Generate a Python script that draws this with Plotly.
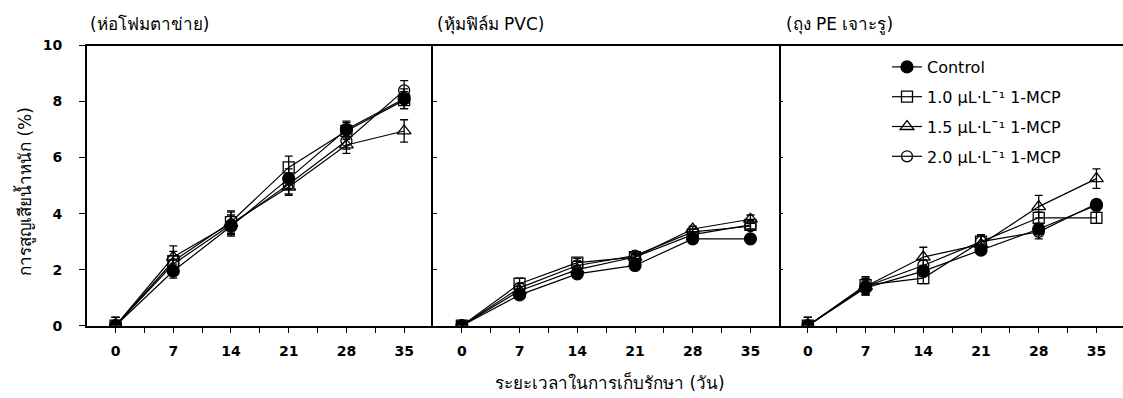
import plotly.graph_objects as go

# Storage time (days) and axis ticks
days = [0, 7, 14, 21, 28, 35]
minor_days = [3.5, 10.5, 17.5, 24.5, 31.5]
y_ticks = [0, 2, 4, 6, 8, 10]

panel_titles = ["(ห่อโฟมตาข่าย)", "(หุ้มฟิล์ม PVC)", "(ถุง PE เจาะรู)"]
series_names = ["Control", "1.0 μL·L¯¹ 1-MCP", "1.5 μL·L¯¹ 1-MCP", "2.0 μL·L¯¹ 1-MCP"]

# Weight loss (%) — foam net wrap
foam_ctrl = [0, 1.95, 3.55, 5.25, 7.0, 8.1]
foam_10 = [0, 2.3, 3.7, 5.65, 6.95, 8.05]
foam_15 = [0, 2.45, 3.65, 4.95, 6.45, 6.95]
foam_20 = [0, 2.2, 3.6, 5.05, 6.6, 8.4]
foam_ctrl_err = [0.3, 0.25, 0.35, 0.35, 0.3, 0.35]
foam_10_err = [0.3, 0.35, 0.4, 0.4, 0.3, 0.3]
foam_15_err = [0.3, 0.4, 0.4, 0.3, 0.3, 0.4]
foam_20_err = [0.3, 0.3, 0.35, 0.35, 0.3, 0.35]

# Weight loss (%) — PVC film wrap
pvc_ctrl = [0, 1.1, 1.85, 2.15, 3.1, 3.1]
pvc_10 = [0, 1.5, 2.25, 2.45, 3.25, 3.6]
pvc_15 = [0, 1.25, 2.0, 2.45, 3.45, 3.8]
pvc_20 = [0, 1.35, 2.15, 2.5, 3.35, 3.55]
pvc_ctrl_err = [0.1, 0.1, 0.15, 0.15, 0.1, 0.15]
pvc_10_err = [0.1, 0.2, 0.15, 0.1, 0.1, 0.15]
pvc_15_err = [0.1, 0.15, 0.15, 0.1, 0.1, 0.15]
pvc_20_err = [0.1, 0.15, 0.15, 0.1, 0.1, 0.1]

# Weight loss (%) — perforated PE bag
pe_ctrl = [0, 1.35, 1.95, 2.7, 3.45, 4.3]
pe_10 = [0, 1.45, 1.7, 3.0, 3.85, 3.85]
pe_15 = [0, 1.4, 2.45, 2.9, 4.25, 5.25]
pe_20 = [0, 1.4, 2.15, 3.0, 3.35, 4.35]
pe_ctrl_err = [0.3, 0.25, 0.2, 0.15, 0.2, 0.15]
pe_10_err = [0.3, 0.3, 0.2, 0.2, 0.2, 0.2]
pe_15_err = [0.3, 0.3, 0.35, 0.3, 0.4, 0.35]
pe_20_err = [0.3, 0.3, 0.2, 0.25, 0.25, 0.15]

panels = [
    ([foam_ctrl, foam_10, foam_15, foam_20], [foam_ctrl_err, foam_10_err, foam_15_err, foam_20_err]),
    ([pvc_ctrl, pvc_10, pvc_15, pvc_20], [pvc_ctrl_err, pvc_10_err, pvc_15_err, pvc_20_err]),
    ([pe_ctrl, pe_10, pe_15, pe_20], [pe_ctrl_err, pe_10_err, pe_15_err, pe_20_err]),
]

W, H = 1123, 398
FONT = "Tahoma, 'DejaVu Sans', 'Noto Sans', sans-serif"

symbols = ["circle", "square-open", "triangle-up-open", "circle-open"]
sizes = [12, 11, 12, 11]

# pixel extents of the three panels
x_px = [(86.7, 433.0), (433.0, 779.0), (779.0, 1123.0)]
px_per_day = (433.0 - 86.7) / 42.0
y_dom = [1 - 325.7 / H, 1 - 45.5 / H]

fig = go.Figure()

for p, (vals, errs) in enumerate(panels):
    xa = "x" if p == 0 else f"x{p + 1}"
    ya = "y" if p == 0 else f"y{p + 1}"
    for s in range(4):
        fig.add_trace(go.Scatter(
            x=days, y=vals[s], xaxis=xa, yaxis=ya,
            mode="lines+markers", name=series_names[s],
            showlegend=(p == 2), legendgroup=f"g{s}",
            line=dict(color="black", width=1.2),
            marker=dict(symbol=symbols[s], size=sizes[s], color="black",
                        line=dict(color="black", width=1.3)),
            error_y=dict(type="data", array=errs[s], color="black",
                         thickness=1.3, width=4),
        ))

tick_font = dict(family=FONT, size=14, color="black", weight="bold")

for p in range(3):
    x0, x1 = x_px[p]
    lo = -3.5
    hi = lo + (x1 - x0) / px_per_day
    key = "" if p == 0 else str(p + 1)
    ov = str(p + 4)
    fig.layout[f"xaxis{key}"] = dict(
        domain=[x0 / W, x1 / W], range=[lo, hi], anchor=f"y{key}",
        showline=True, linecolor="black", linewidth=1.5, mirror=True,
        showgrid=False, zeroline=False,
        tickvals=days, ticktext=[str(d) for d in days],
        ticks="outside", ticklen=6, tickwidth=1.3, tickcolor="black",
        minor=dict(tickvals=minor_days, ticks="outside", ticklen=6,
                   tickwidth=1.3, tickcolor="black"),
        tickfont=tick_font, ticklabelstandoff=6,
    )
    # inner half of the day ticks (they straddle the axis line)
    fig.layout[f"xaxis{ov}"] = dict(
        overlaying=f"x{key}", range=[lo, hi], anchor=f"y{key}",
        showline=False, showgrid=False, zeroline=False,
        tickvals=days, showticklabels=False,
        ticks="inside", ticklen=5, tickwidth=1.3, tickcolor="black",
    )
    # one shared vertical line between neighbouring panels
    fig.layout[f"yaxis{key}"] = dict(
        domain=y_dom, range=[0, 10], anchor=f"x{key}",
        showline=(p < 2), linecolor="black", linewidth=1.5,
        mirror=(p == 1), showgrid=False, zeroline=False,
        tickvals=y_ticks, showticklabels=(p == 0),
        ticks="outside" if p == 0 else "inside",
        ticklen=6 if p == 0 else 4, tickwidth=1.3, tickcolor="black",
        tickfont=tick_font, ticklabelstandoff=14,
    )

fig.layout["yaxis7"] = dict(
    overlaying="y", range=[0, 10], anchor="x",
    showline=False, showgrid=False, zeroline=False,
    tickvals=y_ticks, showticklabels=False,
    ticks="inside", ticklen=6, tickwidth=1.3, tickcolor="black",
)

annotations = []
title_x = [88, 435, 784]
for p in range(3):
    annotations.append(dict(
        text=panel_titles[p], x=title_x[p] / W, y=1 - 24 / H,
        xref="paper", yref="paper", xanchor="left", yanchor="middle",
        showarrow=False, font=dict(family=FONT, size=17, color="black")))

annotations.append(dict(
    text="การสูญเสียน้ำหนัก (%)", x=24 / W, y=1 - 192 / H,
    xref="paper", yref="paper", xanchor="center", yanchor="middle",
    textangle=-90, showarrow=False,
    font=dict(family=FONT, size=17, color="black")))

annotations.append(dict(
    text="ระยะเวลาในการเก็บรักษา (วัน)", x=610 / W, y=1 - 382 / H,
    xref="paper", yref="paper", xanchor="center", yanchor="middle",
    showarrow=False, font=dict(family=FONT, size=17, color="black")))

fig.update_layout(
    width=W, height=H,
    margin=dict(l=0, r=0, t=0, b=0, autoexpand=False),
    paper_bgcolor="white", plot_bgcolor="white",
    annotations=annotations,
    legend=dict(x=887 / W, y=1 - 50 / H, xanchor="left", yanchor="top",
                bgcolor="rgba(0,0,0,0)", tracegroupgap=6,
                traceorder="grouped",
                font=dict(family=FONT, size=16, color="black"),
                itemwidth=30),
)

fig.write_html("out.html")
